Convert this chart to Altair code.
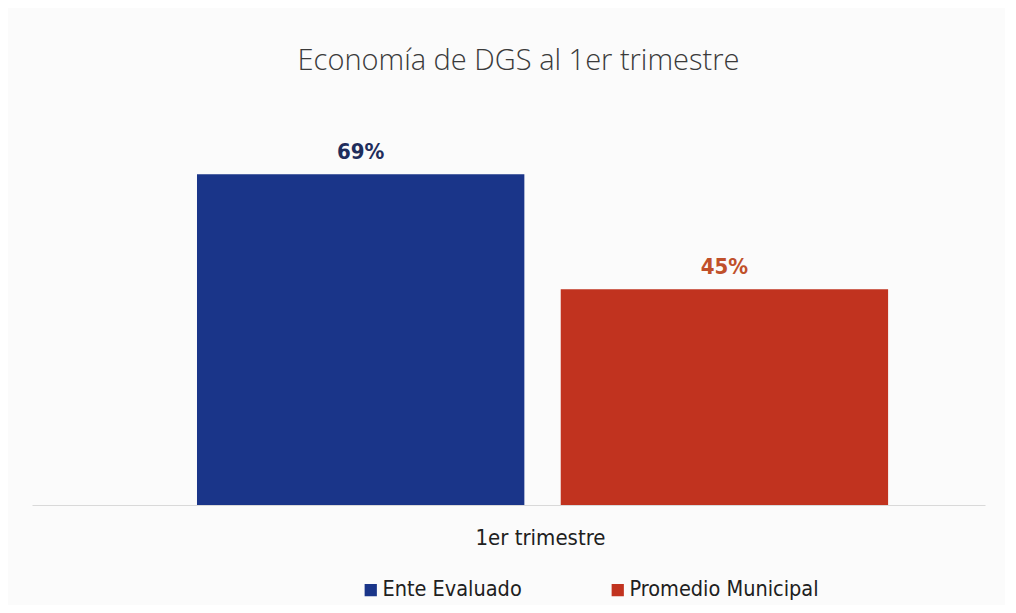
import altair as alt
import pandas as pd

series = ["Ente Evaluado", "Promedio Municipal"]
values = [69, 45]
labels = ["69%", "45%"]
colors = ["#1a3589", "#c1331f"]
label_colors = ["#1f2d5c", "#c0502a"]
category = "1er trimestre"

FONT = "DejaVu Sans Condensed, Roboto, sans-serif"

df = pd.DataFrame({"serie": series, "valor": values, "etiqueta": labels,
                   "lcolor": label_colors, "cat": [category] * 2})

xs = alt.X("serie:N", sort=series,
           scale=alt.Scale(paddingInner=0.1, paddingOuter=0.36, align=0.63),
           axis=alt.Axis(title=category, labels=False, ticks=False,
                         domainColor="#d9d9d9", domainWidth=1,
                         titleFont=FONT, titleFontSize=22,
                         titleFontWeight="normal", titleColor="#202020",
                         titlePadding=22, titleX=508, titleAnchor="start", titleAlign="center"))
ys = alt.Y("valor:Q", scale=alt.Scale(domain=[0, 84.5], nice=False), axis=None)

bars = alt.Chart(df).mark_bar().encode(
    x=xs, y=ys,
    color=alt.Color("serie:N", sort=series,
                    scale=alt.Scale(domain=series, range=colors),
                    legend=alt.Legend(title=None, orient="none", direction="horizontal",
                                      legendX=328, legendY=479, symbolType="square",
                                      symbolSize=150, symbolStrokeWidth=0,
                                      labelFont=FONT, labelFontSize=21.5,
                                      labelColor="#202020", labelOffset=1,
                                      columnPadding=85, labelLimit=300))
)

text = alt.Chart(df).mark_text(dy=-22, fontSize=22, font=FONT,
                               fontWeight="bold").encode(
    x=alt.X("serie:N", sort=series), y="valor:Q", text="etiqueta:N",
    color=alt.Color("lcolor:N", scale=None)
)

chart = alt.layer(bars, text).properties(
    width=953, height=405,
    title=alt.TitleParams("Economía de DGS al 1er trimestre", fontSize=29,
                          font="Open Sans", fontWeight=300, color="#3a3a3a",
                          anchor="middle", offset=24, dx=10),
    padding={"left": 24, "top": 92, "right": 20, "bottom": 100},
    autosize=alt.AutoSizeParams(type="none"),
    background="#fbfbfb"
).configure_view(stroke=None)

chart.save("out.html", embed_options={"renderer": "svg", "actions": False})
